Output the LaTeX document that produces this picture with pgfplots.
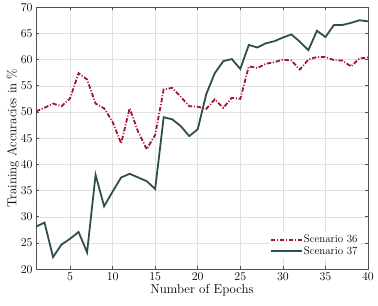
\documentclass[border=0pt]{standalone}
\usepackage{pgfplots}
\pgfplotsset{compat=1.18}
\definecolor{sred}{RGB}{162,20,47}
\definecolor{sgreen}{RGB}{47,79,79}
\definecolor{gridc}{RGB}{225,225,225}
\definecolor{axc}{RGB}{80,80,80}
\begin{document}
\begin{tikzpicture}
\begin{axis}[
  scale only axis,
  width=332bp, height=262bp,
  xmin=1, xmax=40, ymin=20, ymax=70,
  xtick={5,10,...,40}, ytick={20,25,...,70},
  grid=major, major grid style={gridc, line width=0.5pt},
  axis line style={axc, line width=0.6pt},
  tick style={axc, line width=0.6pt},
  tick align=inside,
  major tick length=3pt,
  tick label style={font=\fontsize{12}{14}\selectfont},
  label style={font=\fontsize{13}{15}\selectfont},
  xlabel={Number of Epochs}, ylabel={Training Accuracies in \%},
  xlabel style={yshift=3pt}, ylabel style={yshift=-5pt},
  legend style={at={(0.975,0.04)}, anchor=south east, draw=none, fill=white, font=\fontsize{11}{12}\selectfont, inner sep=1pt, row sep=-2pt,
    nodes={inner xsep=1pt}},
  legend cell align=left,
  legend image code/.code={\draw[#1, line width=1.8pt] (0cm,0cm) -- (1.1cm,0cm);},
]
\addplot[sred, line width=1.8pt, dash pattern=on 4.5pt off 1.8pt on 1pt off 1.8pt] coordinates {
(1,50.1)(2,50.8)(3,51.6)(4,51.1)(5,52.6)(6,57.4)(7,56.2)(8,51.6)(9,50.7)(10,48.1)
(11,44.0)(12,50.7)(13,46.2)(14,42.9)(15,45.6)(16,54.3)(17,54.6)(18,52.9)(19,51.1)(20,51.0)
(21,50.6)(22,52.4)(23,50.8)(24,52.7)(25,52.5)(26,58.7)(27,58.4)(28,59.2)(29,59.5)(30,60.0)
(31,59.8)(32,58.1)(33,60.0)(34,60.5)(35,60.5)(36,59.9)(37,59.8)(38,58.7)(39,60.2)(40,60.4)
};
\addlegendentry{Scenario 36}
\addplot[sgreen, line width=1.8pt] coordinates {
(1,28.1)(2,28.9)(3,22.3)(4,24.7)(5,25.8)(6,27.1)(7,23.2)(8,38.0)(9,32.0)(10,34.8)
(11,37.5)(12,38.2)(13,37.5)(14,36.8)(15,35.3)(16,49.0)(17,48.6)(18,47.3)(19,45.4)(20,46.7)
(21,53.4)(22,57.4)(23,59.7)(24,60.1)(25,58.2)(26,62.8)(27,62.3)(28,63.1)(29,63.5)(30,64.2)
(31,64.8)(32,63.4)(33,61.8)(34,65.5)(35,64.3)(36,66.6)(37,66.6)(38,67.0)(39,67.5)(40,67.3)
};
\addlegendentry{Scenario 37}
\end{axis}
\path ([shift={(-36bp,-36.4bp)}]current axis.south west) rectangle ([shift={(10bp,7bp)}]current axis.north east);
\end{tikzpicture}
\end{document}
